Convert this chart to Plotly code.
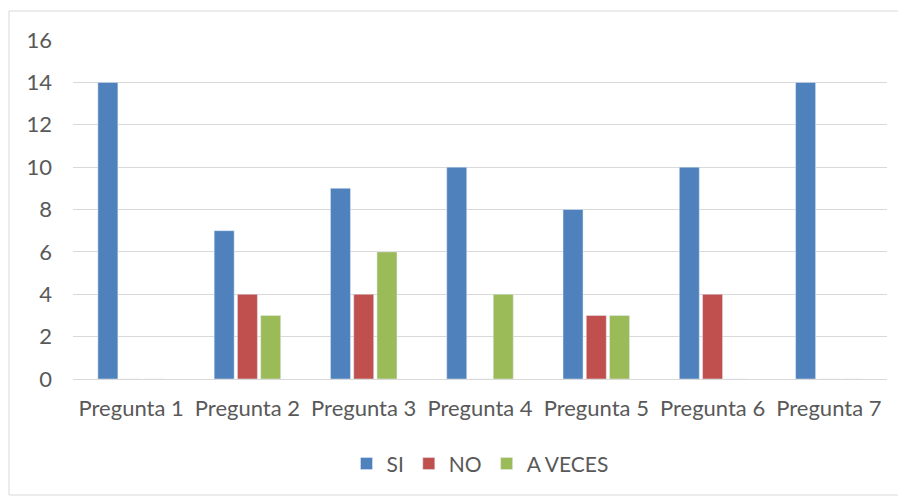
import plotly.graph_objects as go

categories = ["Pregunta 1", "Pregunta 2", "Pregunta 3", "Pregunta 4", "Pregunta 5", "Pregunta 6", "Pregunta 7"]
si = [14, 7, 9, 10, 8, 10, 14]
no = [0, 4, 4, 0, 3, 4, 0]
a_veces = [0, 3, 6, 4, 3, 0, 0]
y_ticks = [0, 2, 4, 6, 8, 10, 12, 14, 16]

font_family = "Lato, 'Open Sans', sans-serif"
text_color = "#595959"

W, H = 898, 488
L, R, T, B = 65, 19, 32, 117
pw, ph = W - L - R, H - T - B

fig = go.Figure()
fig.add_trace(go.Bar(name="SI", x=categories, y=si, marker_color="#4F81BD"))
fig.add_trace(go.Bar(name="NO", x=categories, y=no, marker_color="#C0504D"))
fig.add_trace(go.Bar(name="A VECES", x=categories, y=a_veces, marker_color="#9BBB59"))

fig.update_layout(
    width=W, height=H,
    margin=dict(l=L, r=R, t=T, b=B),
    paper_bgcolor="white", plot_bgcolor="white",
    barmode="group", bargap=0.40, bargroupgap=0.14,
    font=dict(family=font_family, size=22, color=text_color),
    showlegend=True,
    legend=dict(orientation="h", x=0.5, xanchor="center", y=-0.19, yanchor="top",
                font=dict(size=21, color=text_color), itemwidth=30),
    xaxis=dict(showgrid=False, showline=True, linecolor="#D9D9D9", linewidth=1,
               ticks="", ticklabelstandoff=10, tickfont=dict(size=22, color=text_color)),
    yaxis=dict(range=[0, 16], tickvals=y_ticks, showgrid=True, gridcolor="#D9D9D9",
               gridwidth=1, zeroline=False, ticks="", ticklen=0, ticklabelstandoff=20,
               tickfont=dict(size=22, color=text_color)),
    shapes=[dict(type="rect", xref="paper", yref="paper",
                 x0=(1 - L) / pw, x1=(896 - L) / pw,
                 y0=(T + ph - 487) / ph, y1=(T + ph - 3) / ph,
                 line=dict(color="#D9D9D9", width=1), fillcolor="rgba(0,0,0,0)", layer="below")],
)

fig.write_html("out.html")
